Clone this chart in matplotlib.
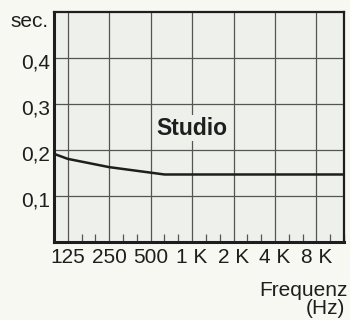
import numpy as np
import matplotlib
matplotlib.use("Agg")
import matplotlib.pyplot as plt
import matplotlib.transforms as mtransforms
from matplotlib.ticker import FixedLocator, NullFormatter

# reverberation time (Hz, seconds)
freqs = [99.2, 125, 250, 500, 630, 1000, 2000, 4000, 8000, 12700]
rt60 = [0.191, 0.180, 0.162, 0.150, 0.146, 0.146, 0.146, 0.146, 0.146, 0.146]

octave_ticks = [125, 250, 500, 1000, 2000, 4000, 8000]
octave_labels = ["125", "250", "500", "1 K", "2 K", "4 K", "8 K"]
y_ticks = [0.1, 0.2, 0.3, 0.4]
y_labels = ["0,1", "0,2", "0,3", "0,4"]

plt.rcParams['font.family'] = ['Liberation Sans', 'DejaVu Sans']

fig_bg = "#f8f8f2"
ax_bg = "#eef0eb"
ink = "#1e1e1e"

fig = plt.figure(figsize=(3.5, 3.2), dpi=100, facecolor=fig_bg)
ax = fig.add_axes([0.1543, 0.2453, 0.8286, 0.7172], facecolor=ax_bg)

ax.plot(freqs, rt60, color=ink, lw=1.8, solid_capstyle='butt', zorder=4)

ax.set_xscale('log', base=2)
ax.set_xlim(125 * 2 ** (-1 / 3), 8000 * 2 ** (2 / 3))
ax.set_ylim(0, 0.5)

ax.set_xticks(octave_ticks)
ax.set_xticklabels(octave_labels)
third_octaves = [125 * 2 ** (k / 3) for k in range(0, 21) if k % 3 != 0]
ax.xaxis.set_minor_locator(FixedLocator(third_octaves))
ax.xaxis.set_minor_formatter(NullFormatter())
ax.set_yticks(y_ticks)
ax.set_yticklabels(y_labels)

ax.grid(True, which='major', color="#555555", lw=0.9)
ax.set_axisbelow(True)
ax.tick_params(axis='x', which='major', length=0, pad=4.5, labelsize=15, colors=ink)
ax.tick_params(axis='x', which='minor', direction='in', length=6, width=0.9, color="#555555")
ax.tick_params(axis='y', which='major', length=0, pad=3, labelsize=15, colors=ink)

# y labels sit a little below their gridlines in the original
shift = mtransforms.ScaledTranslation(0, -3 / 100, fig.dpi_scale_trans)
for lab in ax.get_yticklabels():
    lab.set_transform(lab.get_transform() + shift)

for side in ['left', 'bottom']:
    ax.spines[side].set_linewidth(2.2)
    ax.spines[side].set_color(ink)
for side in ['top', 'right']:
    ax.spines[side].set_linewidth(1.6)
    ax.spines[side].set_color(ink)

ax.text(-0.018, 0.933, "sec.", transform=ax.transAxes, ha='right', va='baseline',
        fontsize=15, color=ink)

ax.text(1000, 0.247, "Studio", ha='center', va='center', fontsize=16.5,
        fontweight='bold', color=ink, zorder=5,
        bbox=dict(boxstyle='square,pad=0.05', facecolor=ax_bg, edgecolor='none'))

fig.text(0.994, 0.122, "Frequenz", ha='right', va='top', fontsize=15, color=ink)
fig.text(0.986, 0.067, "(Hz)", ha='right', va='top', fontsize=15, color=ink)

fig.savefig("out.png", dpi=100, facecolor=fig_bg)
